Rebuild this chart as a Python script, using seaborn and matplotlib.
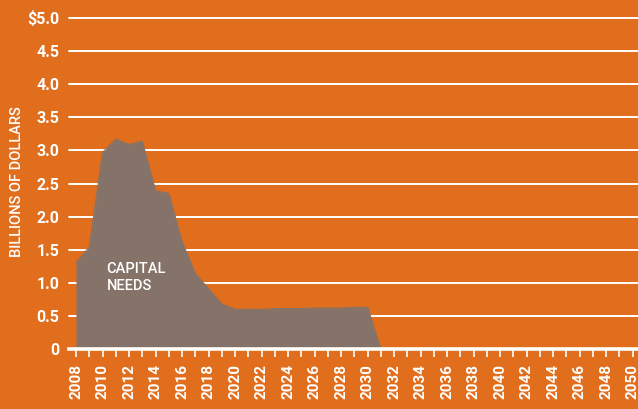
import matplotlib
matplotlib.use("Agg")
import matplotlib.pyplot as plt
import seaborn as sns
import pandas as pd
from matplotlib.ticker import MultipleLocator

# Annual capital needs, billions of dollars
years = list(range(2008, 2032))
capital_needs = [1.31, 1.54, 2.97, 3.17, 3.09, 3.14, 2.39, 2.35, 1.62, 1.14,
                 0.91, 0.68, 0.60, 0.60, 0.60, 0.61, 0.61, 0.61, 0.62, 0.62,
                 0.62, 0.63, 0.63, 0.0]
y_ticks = [0, 0.5, 1.0, 1.5, 2.0, 2.5, 3.0, 3.5, 4.0, 4.5, 5.0]
y_tick_labels = ["0", "0.5", "1.0", "1.5", "2.0", "2.5", "3.0", "3.5", "4.0", "4.5", "$5.0"]
x_label_years = list(range(2008, 2051, 2))

ORANGE = "#E06E1D"
TAUPE = "#857369"
WHITE = "#FFFFFF"

sns.set_theme(style="white")
plt.rcParams["font.family"] = ["Roboto", "DejaVu Sans"]

df = pd.DataFrame({"year": years, "value": capital_needs})

fig = plt.figure(figsize=(6.38, 4.09), dpi=100, facecolor=ORANGE)
ax = fig.add_axes([69 / 638, 1 - 349 / 409, 1 - 69 / 638, (349 - 18) / 409])
ax.set_facecolor(ORANGE)

# horizontal gridlines behind the area
for yv in y_ticks[1:]:
    ax.axhline(yv, color=WHITE, lw=1.4, zorder=1, clip_on=False)

ax.fill_between(df["year"], df["value"], 0, color=TAUPE, lw=0, zorder=2)
sns.lineplot(data=df, x="year", y="value", ax=ax, color=TAUPE, lw=0.8, zorder=3)

ax.set_xlim(2007.47, 2050.4)
ax.set_ylim(0, 5.0)

for s in ["top", "right", "left"]:
    ax.spines[s].set_visible(False)
ax.spines["bottom"].set_color(WHITE)
ax.spines["bottom"].set_linewidth(2.6)
ax.spines["bottom"].set_zorder(5)

ax.set_yticks(y_ticks)
ax.set_yticklabels(y_tick_labels)
ax.tick_params(axis="y", length=0, pad=7, labelcolor=WHITE, labelsize=11.5)
for lbl in ax.get_yticklabels():
    lbl.set_fontweight("bold")

ax.set_xticks(x_label_years)
ax.set_xticklabels([str(y) for y in x_label_years], rotation=90)
ax.xaxis.set_minor_locator(MultipleLocator(1))
ax.tick_params(axis="x", which="both", direction="out", length=6, width=1.2,
               color=WHITE, bottom=True, labelcolor=WHITE, labelsize=11, pad=5)
for lbl in ax.get_xticklabels():
    lbl.set_fontweight("bold")

ax.set_xlabel("")
ax.set_ylabel("")
fig.text(17 / 638, 1 - 182 / 409, "BILLIONS OF DOLLARS", rotation=90, color=WHITE,
         fontsize=10.5, fontweight="medium", ha="center", va="center")

ax.text(2010.3, 1.08, "CAPITAL\nNEEDS", color=WHITE, fontsize=10.5, fontweight="medium",
        ha="left", va="center", linespacing=1.2, zorder=6)

fig.savefig("out.png", dpi=100, facecolor=ORANGE)
